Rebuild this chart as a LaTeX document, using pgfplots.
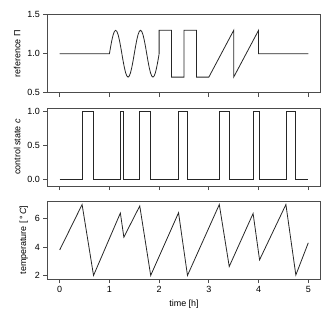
\documentclass[border=0pt]{standalone}
\usepackage{pgfplots}
\pgfplotsset{compat=1.18}
\usepackage{fontspec}
\setmainfont{Liberation Sans}
\definecolor{spine}{gray}{0.3}
\definecolor{dataline}{gray}{0.15}
\pgfplotsset{
  myax/.style={
    scale only axis, width=273.4bp, height=78bp,
    xmin=-0.25, xmax=5.25, xtick={0,1,2,3,4,5},
    tick align=outside, tick pos=left, major tick length=4bp,
    axis line style={spine, line width=0.8pt},
    every tick/.style={spine, line width=0.8pt},
    font=\fontsize{9}{10}\selectfont,
    /pgf/number format/assume math mode=true,
    anchor=north west,
    ylabel style={font=\fontsize{9}{10}\selectfont},
  },
  dat/.style={dataline, line width=0.8pt, no marks},
}
\begin{document}
\begin{tikzpicture}
\useasboundingbox (0,0) rectangle (335bp,-322bp);
% panel 1
\begin{axis}[myax, at={(47.3bp,-14.7bp)},
  ymin=0.5, ymax=1.5, ytick={0.5,1.0,1.5},
  yticklabel style={/pgf/number format/.cd, fixed, fixed zerofill, precision=1},
  xticklabels={{},{},{},{},{},{}}, ylabel={reference Π}]
\addplot[dat] coordinates {
(0,1.000) (1.000,1.000)
(1.025,1.093) (1.050,1.176) (1.075,1.243) (1.100,1.285) (1.125,1.300)
(1.150,1.285) (1.175,1.243) (1.200,1.176) (1.225,1.093) (1.250,1.000)
(1.275,0.907) (1.300,0.824) (1.325,0.757) (1.350,0.715) (1.375,0.700)
(1.400,0.715) (1.425,0.757) (1.450,0.824) (1.475,0.907) (1.500,1.000)
(1.525,1.093) (1.550,1.176) (1.575,1.243) (1.600,1.285) (1.625,1.300)
(1.650,1.285) (1.675,1.243) (1.700,1.176) (1.725,1.093) (1.750,1.000)
(1.775,0.907) (1.800,0.824) (1.825,0.757) (1.850,0.715) (1.875,0.700)
(1.900,0.715) (1.925,0.757) (1.950,0.824) (1.975,0.907) (2.000,1.000)
(2.000,1.3) (2.25,1.3) (2.25,0.7) (2.5,0.7) (2.5,1.3) (2.75,1.3) (2.75,0.7)
(3.0,0.7) (3.5,1.3) (3.5,0.7) (4.0,1.3) (4.0,1.0) (5.0,1.0)
};
\end{axis}
% panel 2
\begin{axis}[myax, at={(47.3bp,-108bp)},
  ymin=-0.09, ymax=1.05, ytick={0,0.5,1.0},
  yticklabel style={/pgf/number format/.cd, fixed, fixed zerofill, precision=1},
  xticklabels={{},{},{},{},{},{}}, ylabel={control state \textit{c}}]
\addplot[dat] coordinates {
(0,0) (0.45,0) (0.45,1) (0.68,1) (0.68,0)
(1.22,0) (1.22,1) (1.29,1) (1.29,0)
(1.61,0) (1.61,1) (1.83,1) (1.83,0)
(2.39,0) (2.39,1) (2.57,1) (2.57,0)
(3.21,0) (3.21,1) (3.41,1) (3.41,0)
(3.89,0) (3.89,1) (4.02,1) (4.02,0)
(4.55,0) (4.55,1) (4.75,1) (4.75,0) (5,0)
};
\end{axis}
% panel 3
\begin{axis}[myax, at={(47.3bp,-201bp)},
  ymin=1.75, ymax=7.25, ytick={2,4,6},
  xlabel={time [h]}, ylabel={temperature [\,°\,\textit{C}]},
  xlabel style={font=\fontsize{9}{10}\selectfont}]
\addplot[dat] coordinates {
(0,3.8) (0.45,7.0) (0.68,2.0) (1.22,6.4) (1.29,4.7) (1.61,6.9) (1.83,2.0)
(2.39,6.42) (2.57,2.0) (3.21,7.0) (3.41,2.63) (3.89,6.37) (4.02,3.1)
(4.55,7.0) (4.75,2.03) (5,4.3)
};
\end{axis}
\end{tikzpicture}
\end{document}
